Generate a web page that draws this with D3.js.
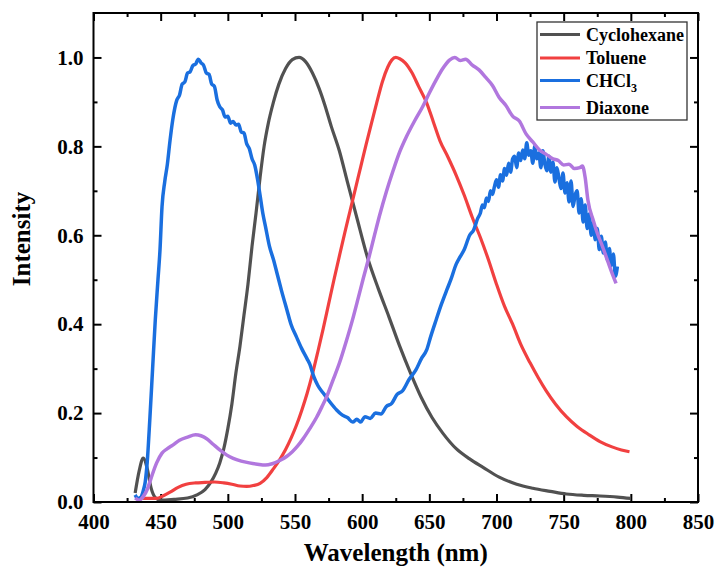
<!DOCTYPE html>
<html>
<head>
<meta charset="utf-8">
<script src="https://cdn.jsdelivr.net/npm/d3@7"></script>
<style>
  body { margin: 0; background: #fff; }
  text { font-family: "Liberation Serif", "Times New Roman", serif; font-weight: bold; }
</style>
</head>
<body>
<div id="chart"></div>
<script>
// emission spectra, values
var seriesNames = ["Cyclohexane", "Toluene", "CHCl3", "Diaxone"];
var seriesColors = ["#515151", "#f14040", "#1a6fdf", "#b177de"];

var cycloWl = [431,434,437,440,443,446,450,460,470,477,483,487,491,494,497,500,503,506,509,512,515,518,521,524,527,530,534,538,543,548,553,558,563,568,572,577,583,589,596,604,612,620,628,636,644,652,660,670,680,690,702,715,727,740,752,765,777,790,800];
var cycloInt = [0.02,0.07,0.099,0.075,0.03,0.01,0.004,0.006,0.009,0.016,0.028,0.043,0.065,0.088,0.12,0.165,0.22,0.29,0.35,0.42,0.49,0.575,0.65,0.73,0.8,0.85,0.9,0.94,0.975,0.995,1.0,0.99,0.965,0.93,0.895,0.845,0.79,0.72,0.64,0.55,0.48,0.416,0.35,0.29,0.235,0.19,0.155,0.12,0.097,0.078,0.056,0.04,0.031,0.024,0.018,0.015,0.0135,0.011,0.008];

var tolWl = [434,440,447,452,457,463,469,476,483,490,497,503,509,514,519,524,529,534,539,543,547,551,555,559,563,567,571,575,579,583,587,591,595,599,603,607,611,615,619,622,625,628,632,637,642,648,653,658,664,670,676,682,688,694,700,706,712,718,725,731,737,744,752,760,769,777,786,793,799];
var tolInt = [0.01,0.008,0.008,0.014,0.022,0.033,0.04,0.043,0.044,0.045,0.043,0.04,0.036,0.035,0.037,0.042,0.055,0.075,0.097,0.118,0.143,0.172,0.206,0.244,0.288,0.338,0.39,0.445,0.5,0.553,0.605,0.655,0.705,0.755,0.805,0.853,0.9,0.945,0.978,0.994,1.0,0.997,0.988,0.966,0.935,0.898,0.855,0.812,0.775,0.735,0.69,0.64,0.595,0.545,0.49,0.44,0.4,0.355,0.313,0.28,0.25,0.22,0.192,0.17,0.151,0.136,0.124,0.117,0.113];

var chclWl = [431,433,435,437,438.5,440,442,444,446,448,449.5,451,453,455,457,459,462,464,466,468,470,472,474,476,478,480,482,484,486,488,490,492,494,496,498,500,502,504,506,508,510,512,514,516,518,520,522,524,526,528,531,534,537,540,544,547,551,555,559,561,564,567,571,576,581,585,589,593,596,599,602,606,610,614,618,622,626,630,635,640,644,648,651,655,659,663,666,670,673,676,680,683,686,688,689.5,691,692.5,694,695.5,697,698.5,700,701.5,703,704.5,706,707.5,709,710.5,712,713.5,715,716.5,718,719.5,721,722.5,724,725.5,727,728.5,730,731.5,733,734.5,736,737.5,739,740.5,742,743.5,745,746.5,748,749.5,751,752.5,754,755.5,757,758.5,760,761.5,763,764.5,766,767.5,769,770.5,772,773.5,775,776.5,778,779.5,781,782.5,784,785.5,787,788.5,790];
var chclInt = [0.016,0.008,0.01,0.025,0.045,0.09,0.19,0.3,0.41,0.5,0.567,0.664,0.72,0.76,0.814,0.86,0.904,0.915,0.94,0.945,0.965,0.968,0.982,0.985,0.996,0.988,0.982,0.965,0.962,0.94,0.935,0.905,0.889,0.882,0.866,0.868,0.852,0.856,0.848,0.85,0.832,0.83,0.806,0.795,0.772,0.758,0.728,0.69,0.65,0.62,0.575,0.545,0.51,0.475,0.432,0.4,0.372,0.345,0.322,0.31,0.282,0.262,0.245,0.225,0.207,0.196,0.19,0.18,0.186,0.18,0.192,0.188,0.2,0.198,0.215,0.222,0.242,0.25,0.276,0.297,0.322,0.342,0.372,0.409,0.445,0.477,0.5,0.535,0.552,0.568,0.6,0.612,0.638,0.65,0.668,0.662,0.684,0.676,0.7,0.692,0.71,0.725,0.708,0.736,0.722,0.75,0.735,0.762,0.742,0.772,0.778,0.752,0.785,0.768,0.792,0.772,0.808,0.78,0.79,0.762,0.8,0.772,0.785,0.752,0.79,0.76,0.745,0.778,0.742,0.765,0.72,0.752,0.728,0.705,0.74,0.695,0.718,0.675,0.722,0.665,0.69,0.7,0.65,0.682,0.63,0.668,0.615,0.648,0.6,0.628,0.59,0.615,0.568,0.598,0.56,0.585,0.545,0.57,0.532,0.558,0.508,0.53];

var diaxWl = [431,434,437,440,443,447,451,455,459,464,470,476,480,484,489,494,499,504,510,516,522,528,533,539,544,548,552,556,561,566,570,574,578,583,588,593,597,601,605,609,613,618,623,628,633,639,645,650,655,660,665,669,673,677,682,687,692,697,702,707,712,717,722,727,732,737,742,746,750,754,758,762,764,766,768,772,775,779,783,786,789];
var diaxInt = [0.009,0.004,0.012,0.028,0.055,0.088,0.11,0.12,0.128,0.139,0.146,0.151,0.149,0.143,0.13,0.117,0.106,0.098,0.092,0.088,0.085,0.083,0.086,0.094,0.103,0.113,0.126,0.142,0.165,0.19,0.214,0.24,0.272,0.312,0.36,0.412,0.458,0.505,0.55,0.598,0.645,0.698,0.745,0.788,0.822,0.857,0.889,0.92,0.949,0.975,0.994,1.0,0.993,0.996,0.983,0.972,0.955,0.937,0.91,0.892,0.868,0.857,0.828,0.81,0.792,0.782,0.772,0.768,0.758,0.76,0.75,0.752,0.756,0.73,0.68,0.634,0.605,0.574,0.54,0.515,0.492];

var xMajor = [400,450,500,550,600,650,700,750,800,850];
var xMinor = [425,475,525,575,625,675,725,775,825];
var yMajor = [0.0,0.2,0.4,0.6,0.8,1.0];
var yMinor = [0.1,0.3,0.5,0.7,0.9];

var svgWidth = 717;
var svgHeight = 573;
var margin = {top: 13, right: 19, bottom: 71, left: 93.5};
var width = svgWidth - margin.left - margin.right;
var height = svgHeight - margin.top - margin.bottom;

var svg = d3.select("#chart")
    .append("svg")
    .attr("width", svgWidth)
    .attr("height", svgHeight);

var chartGroup = svg.append("g")
    .attr("transform", `translate(${margin.left},${margin.top})`);

var xScale = d3.scaleLinear().domain([400, 850]).range([0, width]);
var yScale = d3.scaleLinear().domain([0, 1.1]).range([height, 0]);

function styleAxis(g) {
    g.select(".domain").remove();
    g.selectAll("line").attr("stroke", "#000").attr("stroke-width", 2);
    g.selectAll("text").attr("fill", "#000").style("font-size", "21px")
        .style("font-family", '"Liberation Serif", serif').style("font-weight", "bold");
}

// bottom axis, ticks point inside
chartGroup.append("g")
    .attr("transform", `translate(0,${height})`)
    .call(d3.axisBottom(xScale).tickValues(xMajor).tickSize(-8).tickPadding(12).tickFormat(d3.format("d")))
    .call(styleAxis);
chartGroup.append("g")
    .attr("transform", `translate(0,${height})`)
    .call(d3.axisBottom(xScale).tickValues(xMinor).tickSize(-4).tickFormat(""))
    .call(styleAxis);

// top axis
chartGroup.append("g")
    .call(d3.axisTop(xScale).tickValues(xMajor).tickSize(-8).tickFormat(""))
    .call(styleAxis);
chartGroup.append("g")
    .call(d3.axisTop(xScale).tickValues(xMinor).tickSize(-4).tickFormat(""))
    .call(styleAxis);

// left axis
chartGroup.append("g")
    .call(d3.axisLeft(yScale).tickValues(yMajor).tickSize(-8).tickPadding(10).tickFormat(d3.format(".1f")))
    .call(styleAxis);
chartGroup.append("g")
    .call(d3.axisLeft(yScale).tickValues(yMinor).tickSize(-4).tickFormat(""))
    .call(styleAxis);

// right axis
chartGroup.append("g")
    .attr("transform", `translate(${width},0)`)
    .call(d3.axisRight(yScale).tickValues(yMajor).tickSize(-8).tickFormat(""))
    .call(styleAxis);
chartGroup.append("g")
    .attr("transform", `translate(${width},0)`)
    .call(d3.axisRight(yScale).tickValues(yMinor).tickSize(-4).tickFormat(""))
    .call(styleAxis);

// curves
var lineGen = d3.line()
    .x(d => xScale(d[0]))
    .y(d => yScale(d[1]))
    .curve(d3.curveMonotoneX);

var allSeries = [
    d3.zip(cycloWl, cycloInt),
    d3.zip(tolWl, tolInt),
    d3.zip(chclWl, chclInt),
    d3.zip(diaxWl, diaxInt)
];
var lineWidths = [3.2, 3.2, 3.5, 3.5];

chartGroup.selectAll(".spectrum")
    .data(allSeries)
    .enter()
    .append("path")
    .classed("spectrum", true)
    .attr("d", d => lineGen(d))
    .attr("fill", "none")
    .attr("stroke", (d, i) => seriesColors[i])
    .attr("stroke-width", (d, i) => lineWidths[i])
    .attr("stroke-linejoin", "round");

// frame
chartGroup.append("rect")
    .attr("x", 0)
    .attr("y", 0)
    .attr("width", width)
    .attr("height", height)
    .attr("fill", "none")
    .attr("stroke", "#000")
    .attr("stroke-width", 2);

// axis titles
chartGroup.append("text")
    .attr("x", width / 2)
    .attr("y", height + 59)
    .attr("text-anchor", "middle")
    .style("font-size", "25px")
    .text("Wavelength (nm)");

svg.append("text")
    .attr("transform", "translate(30,239) rotate(-90)")
    .attr("text-anchor", "middle")
    .style("font-size", "25px")
    .text("Intensity");

// legend
var legend = svg.append("g").attr("transform", "translate(537,22)");
legend.append("rect")
    .attr("width", 150)
    .attr("height", 98)
    .attr("fill", "#fff")
    .attr("stroke", "#333")
    .attr("stroke-width", 1.3);

var rowY = [12.5, 36, 58.5, 85.5];
seriesNames.forEach(function(name, i) {
    legend.append("line")
        .attr("x1", 3)
        .attr("x2", 43)
        .attr("y1", rowY[i])
        .attr("y2", rowY[i])
        .attr("stroke", seriesColors[i])
        .attr("stroke-width", 3);
    var label = legend.append("text")
        .attr("x", 49)
        .attr("y", rowY[i] + 6)
        .style("font-size", "18px");
    if (name == "CHCl3") {
        label.text("CHCl");
        label.append("tspan").attr("dy", 5).style("font-size", "12px").text("3");
    } else {
        label.text(name);
    }
});
</script>
</body>
</html>
